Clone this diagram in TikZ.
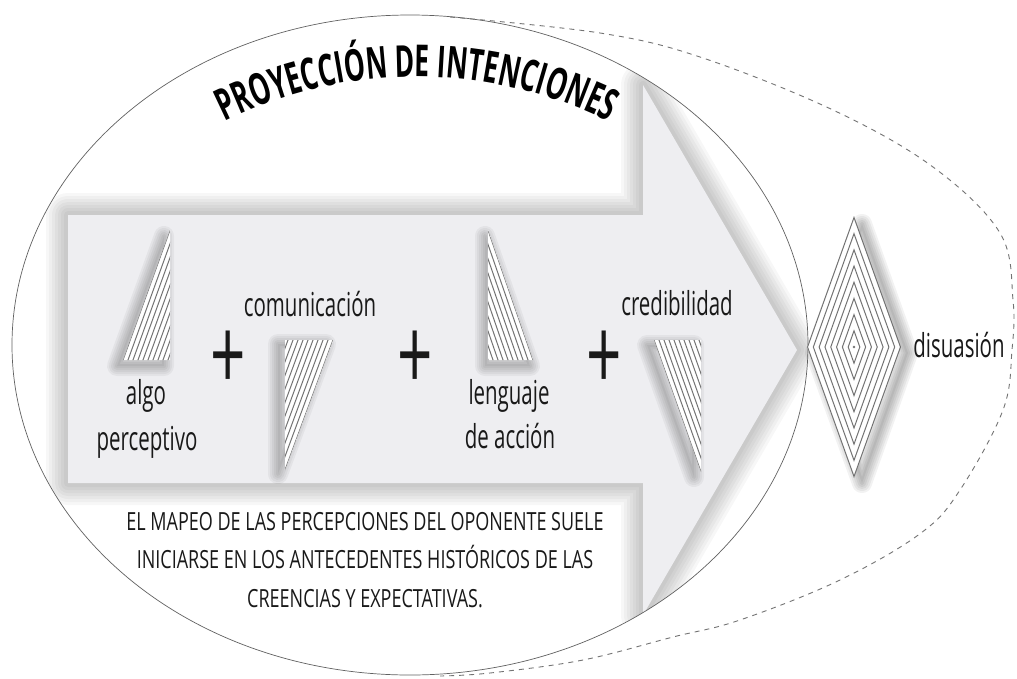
\documentclass[tikz,border=0pt]{standalone}
\usepackage{fontspec}
\setmainfont{Open Sans}
\newfontfamily\lblfam{Open Sans}[FakeStretch=0.62]
\newfontfamily\capsfam{Open Sans}[FakeStretch=0.72]
\newfontfamily\titlefam{Open Sans}[FakeStretch=0.6]
\usetikzlibrary{decorations.text}
\definecolor{arrowgray}{RGB}{238,238,241}
\definecolor{inkc}{RGB}{25,25,25}
\definecolor{hatchc}{RGB}{115,115,115}
\newcommand\softsh[4]{%
  \begin{scope}[shift={(#1,#2)}]
    \foreach \w in {20,16,12,8,4}{\draw[line width=\w pt, line join=round, black, opacity=#3] #4;}
    \fill[black, opacity=#3] #4;
  \end{scope}}
\newcommand\titlefont{\titlefam\bfseries\fontsize{44}{44}\selectfont}
\begin{document}
\begin{tikzpicture}[x=1pt,y=-1pt,
  lbl/.style={font=\lblfam\fontsize{33}{33}\selectfont, text=inkc, inner sep=0pt, anchor=base},
  capsline/.style={font=\capsfam\fontsize{25}{25}\selectfont, text=inkc, inner sep=0pt, anchor=base},
  plussign/.style={font=\lblfam\fontsize{100}{100}\selectfont, text=inkc, inner sep=0pt, anchor=center},
  hatch/.style={draw=hatchc, line width=1.0pt},
  dline/.style={draw=hatchc, line width=1.0pt},
  ellc/.style={draw=black!62, line width=0.7pt},
  dashc/.style={draw=black!55, line width=0.9pt, dash pattern=on 5pt off 5pt}]
\useasboundingbox (0,0) rectangle (1017,678);
\fill[white] (0,0) rectangle (1017,678);
% big arrow with soft halo, inside the ellipse
\begin{scope}
  \clip (410,345) ellipse [x radius=398, y radius=330];
  \foreach \w in {44,38,32,26,20,14,8}{
    \draw[line width=\w pt, line join=round, black, opacity=0.032]
      (68,215) -- (643,215) -- (643,85) -- (797,350) -- (643,615) -- (643,483) -- (68,483) -- cycle;}
  \fill[arrowgray] (68,215) -- (643,215) -- (643,85) -- (797,350) -- (643,615) -- (643,483) -- (68,483) -- cycle;
\end{scope}
% triangle 1
\softsh{-6}{6}{0.045}{(170,230) -- (123,360) -- (170,360) -- cycle}
\begin{scope}
  \clip (170,230) -- (123,360) -- (170,360) -- cycle;
  \fill[white] (100,200) rectangle (200,400);
  \foreach \k in {0,...,10}{\draw[hatch] ({123+\k*5-14.1},399) -- ++(75.2,-208);}
\end{scope}
% triangle 2
\softsh{-7}{4}{0.045}{(285,340) -- (333,340) -- (285,470) -- cycle}
\begin{scope}
  \clip (285,340) -- (333,340) -- (285,470) -- cycle;
  \fill[white] (260,320) rectangle (360,490);
  \foreach \k in {0,...,10}{\draw[hatch] ({347.4-\k*5},301) -- ++(-76.8,208);}
\end{scope}
% triangle 3
\softsh{-3}{6}{0.045}{(488,230) -- (488,360) -- (533,360) -- cycle}
\begin{scope}
  \clip (488,230) -- (488,360) -- (533,360) -- cycle;
  \fill[white] (470,210) rectangle (560,380);
  \foreach \k in {0,...,10}{\draw[hatch] ({546.5-\k*5},399) -- ++(-72,-208);}
\end{scope}
% triangle 4
\softsh{-7}{5}{0.045}{(654,340) -- (701,340) -- (701,472) -- cycle}
\begin{scope}
  \clip (654,340) -- (701,340) -- (701,472) -- cycle;
  \fill[white] (630,320) rectangle (720,490);
  \foreach \k in {0,...,10}{\draw[hatch] ({639.9+\k*5},300.4) -- ++(75.2,211.2);}
\end{scope}
% solid ellipse
\draw[ellc] (410,345) ellipse [x radius=398, y radius=330];
% diamond
\softsh{8}{6}{0.05}{(854,218) -- (900,347) -- (854,477) -- (807,347) -- cycle}
\fill[white] (854,218) -- (900,347) -- (854,477) -- (807,347) -- cycle;
\foreach \k in {1,...,8}{
  \draw[dline] (854,{347-16.19*\k}) -- ({854+5.81*\k},347) -- (854,{347+16.19*\k}) -- ({854-5.81*\k},347) -- cycle;}
\fill[hatchc] (854,347) circle[radius=1.3];
% dashed outer curve
\draw[dashc] plot[smooth, tension=0.6] coordinates {(450,17) (600,33) (700,57) (833,110) (933,167) (1000,233) (1013,300) (1012,350) (1003,410) (960,490) (921,533) (840,580) (740,620) (673,637) (583,660) (490,673) (440,676)};
% title along arc
\path[decorate, decoration={text along path, text={|\titlefont|PROYECCIÓN DE INTENCIONES}, text align=center}]
  (220,124) .. controls (344,61) and (489,61) .. (613,124);
% labels
\node[lbl] (algo) at (146,404) {algo};
\node[lbl] (perc) at (147,450) {perceptivo};
\node[lbl] (comu) at (310,316) {comunicación};
\node[lbl] (leng) at (509,404) {lenguaje};
\node[lbl] (deac) at (510,448) {de acción};
\node[lbl] (cred) at (677,315) {credibilidad};
\node[lbl] (disu) at (959,357) {disuasión};
\node[plussign] (p1) at (228,361) {+};
\node[plussign] (p2) at (415,361) {+};
\node[plussign] (p3) at (604,361) {+};
\node[capsline] (l1) at (365,530) {EL MAPEO DE LAS PERCEPCIONES DEL OPONENTE SUELE};
\node[capsline] (l2) at (365,568) {INICIARSE EN LOS ANTECEDENTES HISTÓRICOS DE LAS};
\node[capsline] (l3) at (365,607) {CREENCIAS Y EXPECTATIVAS.};
\end{tikzpicture}
\end{document}
